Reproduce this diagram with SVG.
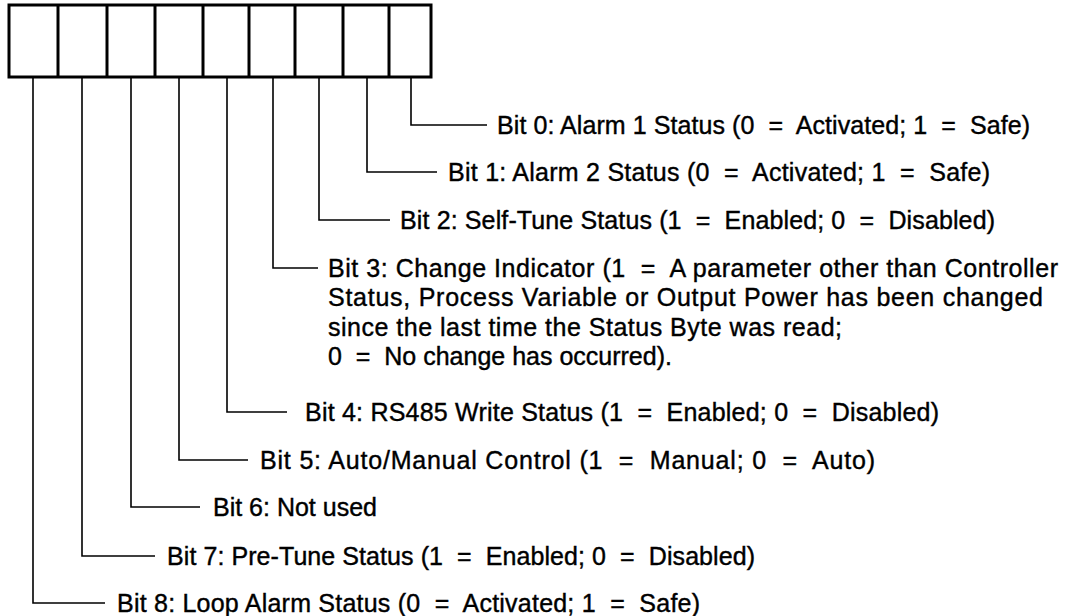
<svg xmlns="http://www.w3.org/2000/svg" width="1069" height="616" viewBox="0 0 1069 616">
<style>
.box{fill:#fff;stroke:#000;stroke-width:3}
.div{stroke:#000;stroke-width:3}
.ld{fill:none;stroke:#000;stroke-width:1.6}
.t{font-family:"Liberation Sans",Arial,sans-serif;font-size:25px;fill:#000;stroke:#000;stroke-width:0.4}
</style>
<rect width="1069" height="616" fill="#fff"/>
<g id="status-byte">
<rect class="box" x="9" y="5" width="422" height="72"/>
<line class="div" x1="58" y1="5" x2="58" y2="77"/>
<line class="div" x1="107" y1="5" x2="107" y2="77"/>
<line class="div" x1="155" y1="5" x2="155" y2="77"/>
<line class="div" x1="203" y1="5" x2="203" y2="77"/>
<line class="div" x1="249" y1="5" x2="249" y2="77"/>
<line class="div" x1="295" y1="5" x2="295" y2="77"/>
<line class="div" x1="343" y1="5" x2="343" y2="77"/>
<line class="div" x1="389" y1="5" x2="389" y2="77"/>
</g>
<g id="connectors">
<path class="ld" d="M411 77V125H487"/>
<path class="ld" d="M367 77V172H437"/>
<path class="ld" d="M319 77V220H390"/>
<path class="ld" d="M273 77V268H318"/>
<path class="ld" d="M227 77V412H287"/>
<path class="ld" d="M179 77V460H248"/>
<path class="ld" d="M131 77V507H200"/>
<path class="ld" d="M82 77V556H155"/>
<path class="ld" d="M33 77V603H105"/>
</g>
<g id="bit0"><text class="t" x="497" y="134" textLength="533" lengthAdjust="spacing">Bit 0: Alarm 1 Status (0 &#160;=&#160; Activated; 1 &#160;=&#160; Safe)</text></g>
<g id="bit1"><text class="t" x="448" y="181" textLength="542" lengthAdjust="spacing">Bit 1: Alarm 2 Status (0 &#160;=&#160; Activated; 1 &#160;=&#160; Safe)</text></g>
<g id="bit2"><text class="t" x="400" y="229" textLength="595" lengthAdjust="spacing">Bit 2: Self-Tune Status (1 &#160;=&#160; Enabled; 0 &#160;=&#160; Disabled)</text></g>
<g id="bit3"><text class="t" x="328" y="277" textLength="730" lengthAdjust="spacing">Bit 3: Change Indicator (1 &#160;=&#160; A parameter other than Controller</text>
<text class="t" x="328" y="306" textLength="715" lengthAdjust="spacing">Status, Process Variable or Output Power has been changed</text>
<text class="t" x="328" y="336" textLength="514" lengthAdjust="spacing">since the last time the Status Byte was read;</text>
<text class="t" x="328" y="365">0 &#160;=&#160; No change has occurred).</text></g>
<g id="bit4"><text class="t" x="305" y="421" textLength="634" lengthAdjust="spacing">Bit 4: RS485 Write Status (1 &#160;=&#160; Enabled; 0 &#160;=&#160; Disabled)</text></g>
<g id="bit5"><text class="t" x="260" y="469" textLength="615" lengthAdjust="spacing">Bit 5: Auto/Manual Control (1 &#160;=&#160; Manual; 0 &#160;=&#160; Auto)</text></g>
<g id="bit6"><text class="t" x="213" y="516">Bit 6: Not used</text></g>
<g id="bit7"><text class="t" x="167" y="565" textLength="588" lengthAdjust="spacing">Bit 7: Pre-Tune Status (1 &#160;=&#160; Enabled; 0 &#160;=&#160; Disabled)</text></g>
<g id="bit8"><text class="t" x="117" y="612" textLength="583" lengthAdjust="spacing">Bit 8: Loop Alarm Status (0 &#160;=&#160; Activated; 1 &#160;=&#160; Safe)</text></g>
</svg>
